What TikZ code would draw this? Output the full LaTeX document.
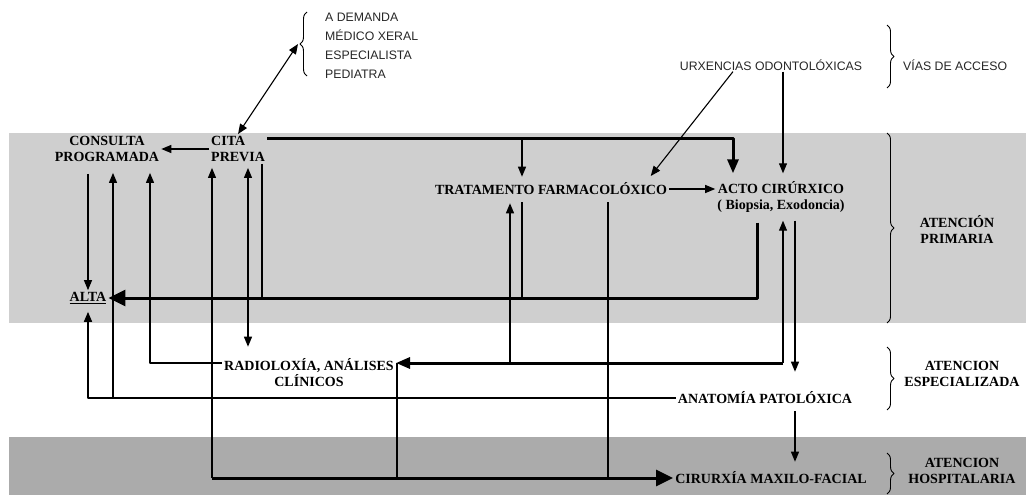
\documentclass[tikz,border=0pt]{standalone}
\usepackage{fontspec}
\setmainfont{Liberation Serif}
\newfontfamily\handfont{Liberation Sans}
\usetikzlibrary{arrows.meta,decorations.pathreplacing}

\tikzset{
  lbl/.style={font=\bfseries\fontsize{14}{16}\selectfont, align=center, inner sep=2pt},
  hand/.style={font=\handfont\fontsize{12.3}{19}\selectfont, text=black!85, inner sep=1pt},
  thn/.style={line width=1.1pt},
  mid/.style={line width=1.6pt},
  thk/.style={line width=3pt},
  bigtip/.style={-{Triangle[length=17pt,width=16pt]}},
  medtip/.style={-{Triangle[length=14pt,width=11pt]}},
  brc/.style={decorate, decoration={brace, amplitude=7pt}, line width=0.9pt},
}

\begin{document}
\begin{tikzpicture}[x=1pt, y=-1pt, line join=round, >={Triangle[length=10pt,width=8pt]}]
  \useasboundingbox (0,0) rectangle (1026,495);
  % bandas
  \fill[black!19] (9,133) rectangle (1026,323);
  \fill[black!33] (9,437) rectangle (1026,495);

  % nodos
  \node[lbl] (cons) at (107,149) {CONSULTA\\PROGRAMADA};
  \node[lbl, align=left, anchor=west] (cita) at (209,149) {CITA\\PREVIA};
  \node[lbl] (alta) at (88,298) {\underline{ALTA}};
  \node[lbl] (trat) at (551,189) {TRATAMENTO FARMACOLÓXICO};
  \node[lbl] (acto) at (781,197) {ACTO CIRÚRXICO\\( Biopsia, Exodoncia)};
  \node[lbl] (radio) at (309,373) {RADIOLOXÍA, ANÁLISES\\CLÍNICOS};
  \node[lbl] (anat) at (765,398) {ANATOMÍA PATOLÓXICA};
  \node[lbl] (ciru) at (771,478) {CIRURXÍA MAXILO-FACIAL};
  \node[hand] (urx) at (771,65) {URXENCIAS ODONTOLÓXICAS};
  \node[hand, anchor=west] (vias) at (902,65) {VÍAS DE ACCESO};
  \node[hand, align=left, anchor=west] (dem) at (324,46) {A DEMANDA\\MÉDICO XERAL\\ESPECIALISTA\\PEDIATRA};
  \node[lbl] (prim) at (957,229) {ATENCIÓN\\PRIMARIA};
  \node[lbl] (esp) at (962,374) {ATENCION\\ESPECIALIZADA};
  \node[lbl] (hosp) at (962,471) {ATENCION\\HOSPITALARIA};

  % chaves
  \draw[brc] (887,25) -- (887,88);
  \draw[brc] (887,133) -- (887,323);
  \draw[brc] (887,347) -- (887,410);
  \draw[brc] (887,453) -- (887,494);
  \draw[brc] (307,76) -- (307,12);
  \coordinate (demtip) at (298,44);

  % carrís
  \coordinate (vAlta) at (88,0);    \coordinate (vConsUp) at (113,0);
  \coordinate (vRadUp) at (150,0);  \coordinate (vCiru) at (212,0);
  \coordinate (vRad) at (248,0);    \coordinate (vCitaDn) at (262,0);
  \coordinate (vRadDn) at (397,0);  \coordinate (vTratUp) at (510,0);
  \coordinate (vTrat) at (522,0);   \coordinate (vTratDn) at (608,0);
  \coordinate (vActo) at (733,0);   \coordinate (vActoDn) at (757,0);
  \coordinate (vUrx) at (783,0);    \coordinate (vAnat) at (795,0);
  \coordinate (hTop) at (0,138);    \coordinate (hRad) at (0,363);

  % vías de acceso
  \draw[thn,<->] (cita.north) -- (demtip);
  \draw[thn,->,shorten >=6pt] (vActo |- urx.south) -- ([xshift=96pt]trat.north);
  \draw[thn,->,shorten >=6pt] (vUrx |- urx.south) -- (vUrx |- acto.north);

  % atención primaria
  \draw[thn,->] (cita.west) -- (cons.east);
  \draw[thk,medtip,shorten >=6pt] (cita.north east |- hTop) -| (vActo |- acto.north);
  \draw[thn,->,shorten >=4pt] (vTrat |- hTop) -- (vTrat |- trat.north);
  \draw[thn,->] (trat.east) -- (acto.west |- trat.east);
  \draw[thn,->,shorten <=10pt] (vAlta |- cons.south) -- (alta.north);
  \draw[thk,bigtip,shorten <=8pt] (vActoDn |- acto.south) |- (alta.east);
  \draw[thn] (vCitaDn |- cita.south) -- (vCitaDn |- alta.east);
  \draw[thn,shorten <=5pt] (vTrat |- trat.south) -- (vTrat |- alta.east);

  % atención especializada
  \draw[thn,<->,shorten <=4pt,shorten >=10pt] (vRad |- cita.south) -- (vRad |- radio.north);
  \draw[thn,->,shorten >=9pt] (radio.west |- hRad) -| (vRadUp |- cons.south);
  \draw[thk,medtip] (vUrx |- hRad) -- (radio.east |- hRad);
  \draw[thn,->,shorten >=6pt] (vUrx |- hRad) -- (vUrx |- acto.south);
  \draw[thn,->,shorten >=6pt] (vTratUp |- hRad) -- (vTratUp |- trat.south);
  \draw[thn] (vRadDn |- hRad) -- (vRadDn |- ciru.west);
  \draw[thn,->,shorten <=6pt,shorten >=18pt] (vAnat |- acto.south) -- (vAnat |- anat.north);
  \draw[mid,->,shorten >=6pt] (anat.west) -| (alta.south);
  \draw[thn,->,shorten >=9pt] (vConsUp |- anat.west) -- (vConsUp |- cons.south);

  % atención hospitalaria
  \draw[thn,->,shorten <=5pt,shorten >=8pt] (vAnat |- anat.south) -- (vAnat |- ciru.north);
  \draw[thn,->,shorten >=4pt] (vCiru |- ciru.west) -- (vCiru |- cita.south);
  \draw[thn,shorten <=5pt] (vTratDn |- trat.south) -- (vTratDn |- ciru.west);
  \draw[thk,bigtip] (vCiru |- ciru.west) -- (ciru.west);
\end{tikzpicture}
\end{document}
